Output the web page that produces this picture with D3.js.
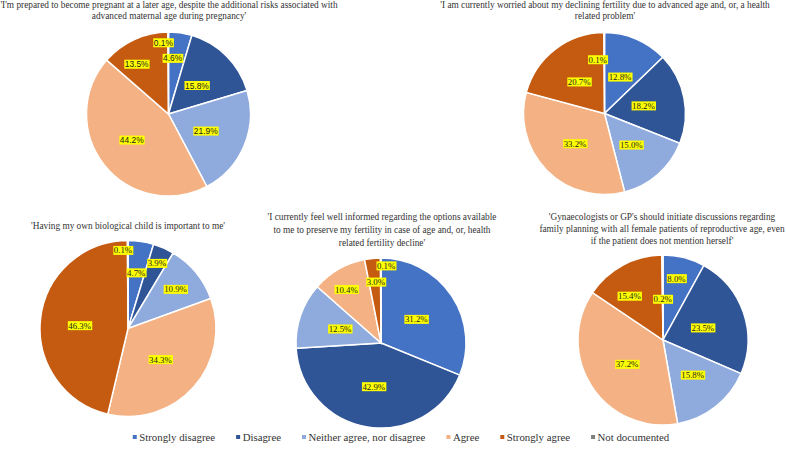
<!DOCTYPE html>
<html>
<head>
<meta charset="utf-8">
<script src="https://cdn.jsdelivr.net/npm/d3@7"></script>
<style>
  body { margin: 0; background: #fff; }
  svg { display: block; }
</style>
</head>
<body>
<div id="chart"></div>
<script>
// answer categories (clockwise from 12 o'clock)
const categories = ["Strongly disagree", "Disagree", "Neither agree, nor disagree", "Agree", "Strongly agree", "Not documented"];

// percentages per question
const q1 = [4.6, 15.8, 21.9, 44.2, 13.5, 0.1];
const q2 = [12.8, 18.2, 15.0, 33.2, 20.7, 0.1];
const q3 = [4.7, 3.9, 10.9, 34.3, 46.3, 0.1];
const q4 = [31.2, 42.9, 12.5, 10.4, 3.0, 0.1];
const q5 = [8.0, 23.5, 15.8, 37.2, 15.4, 0.2];

const titles = [
    ["'I'm prepared to become pregnant at a later age, despite the additional risks associated with", "advanced maternal age during pregnancy'"],
    ["'I am currently worried about my declining fertility due to advanced age and, or, a health", "related problem'"],
    ["'Having my own biological child is important to me'"],
    ["'I currently feel well informed regarding the options available", "to me to preserve my fertility in case of age and, or, health", "related fertility decline'"],
    ["'Gynaecologists or GP's should initiate discussions regarding", "family planning with all female patients of reproductive age, even", "if the patient does not mention herself'"]
];

// styles / layout
const colors = ["#4472C4", "#2F5597", "#8FAADC", "#F4B183", "#C55A11", "#7F7F7F"];
const width = 786, height = 453;

const pies = [
    { values: q1, cx: 168.5, cy: 114, r: 82, titleX: 169, titleY: 8, lineH: 11.2, serif: false,
      labelR: [0.68, 0.49, 0.5, 0.55, 0.72, 0.87], labelShift: [-4, 0, 2, 3, -8, -4] },
    { values: q2, cx: 604.5, cy: 113.5, r: 81, titleX: 605, titleY: 8, lineH: 11.2, serif: true,
      labelR: [0.49, 0.49, 0.51, 0.52, 0.5, 0.67], labelShift: [0, 0, 1, -1, -1, -7] },
    { values: q3, cx: 128, cy: 328.5, r: 88, titleX: 128, titleY: 228.5, lineH: 12.5, serif: true,
      labelR: [0.64, 0.81, 0.7, 0.51, 0.55, 0.89], labelShift: [0, 0, 0, 2, -3, -3.5] },
    { values: q4, cx: 381, cy: 343, r: 85, titleX: 382, titleY: 219.5, lineH: 13.2, serif: true,
      labelR: [0.5, 0.52, 0.51, 0.75, 0.72, 0.91], labelShift: [0, 0, 0, -3, 1, 4] },
    { values: q5, cx: 663, cy: 340, r: 85, titleX: 662, titleY: 219.5, lineH: 12.3, serif: true,
      labelR: [0.74, 0.49, 0.54, 0.51, 0.65, 0.48], labelShift: [-2, 2, -2, -1, -9, 0] }
];

const svg = d3.select("#chart").append("svg")
    .attr("width", width)
    .attr("height", height);

const pie = d3.pie().sort(null).value(d => d);
const color = d3.scaleOrdinal().domain(categories).range(colors);

pies.forEach((p, i) => {
    const g = svg.append("g").attr("transform", `translate(${p.cx},${p.cy})`);
    const arcs = pie(p.values);
    const arc = d3.arc().innerRadius(0).outerRadius(p.r);

    g.selectAll("path")
        .data(arcs)
        .enter().append("path")
        .attr("d", arc)
        .attr("fill", (d, j) => color(categories[j]))
        .attr("stroke", "#fff")
        .attr("stroke-width", 1.5);

    // data labels with yellow highlight
    const labels = g.selectAll("g.lbl")
        .data(arcs)
        .enter().append("g")
        .attr("class", "lbl")
        .attr("transform", (d, j) => {
            const a = (d.startAngle + d.endAngle) / 2 + p.labelShift[j] * Math.PI / 180;
            const rr = p.labelR[j] * p.r;
            const c = d3.arc().innerRadius(rr).outerRadius(rr).startAngle(a).endAngle(a).centroid();
            return `translate(${c[0]},${c[1]})`;
        });

    const txt = labels.append("text")
        .attr("text-anchor", "middle")
        .attr("dy", "0.35em")
        .attr("font-family", p.serif ? "'Liberation Serif', 'Times New Roman', serif" : "'Liberation Sans', Arial, sans-serif")
        .attr("font-size", p.serif ? "8.8px" : "8.4px")
        .attr("fill", "#222")
        .text(d => d.data.toFixed(1) + "%");

    txt.each(function () {
        const b = this.getBBox();
        d3.select(this.parentNode).insert("rect", "text")
            .attr("x", b.x - 0.5)
            .attr("y", b.y + 0.5)
            .attr("width", b.width + 1)
            .attr("height", b.height - 1)
            .attr("fill", "#FFFF00");
    });

    // title
    svg.append("text")
        .attr("x", p.titleX)
        .attr("y", p.titleY)
        .attr("text-anchor", "middle")
        .attr("font-family", "'Liberation Serif', 'Times New Roman', serif")
        .attr("font-size", "9.3px")
        .attr("fill", "#333")
        .selectAll("tspan")
        .data(titles[i])
        .enter().append("tspan")
        .attr("x", p.titleX)
        .attr("dy", (d, k) => k === 0 ? 0 : p.lineH)
        .text(d => d);
});

// legend
const legend = svg.append("g").attr("transform", "translate(0,441)");
const items = legend.selectAll("g")
    .data(categories)
    .enter().append("g");

items.append("rect")
    .attr("y", -6)
    .attr("width", 4)
    .attr("height", 4)
    .attr("fill", d => color(d));

items.append("text")
    .attr("x", 6.5)
    .attr("font-family", "'Liberation Serif', 'Times New Roman', serif")
    .attr("font-size", "10.8px")
    .attr("fill", "#333")
    .text(d => d);

let xPos = 0;
const offsets = [];
items.each(function () {
    offsets.push(xPos);
    xPos += 6.5 + d3.select(this).select("text").node().getComputedTextLength() + 21;
});
const total = xPos - 21;
const startX = 401 - total / 2;
items.attr("transform", (d, j) => `translate(${startX + offsets[j]},0)`);
</script>
</body>
</html>
